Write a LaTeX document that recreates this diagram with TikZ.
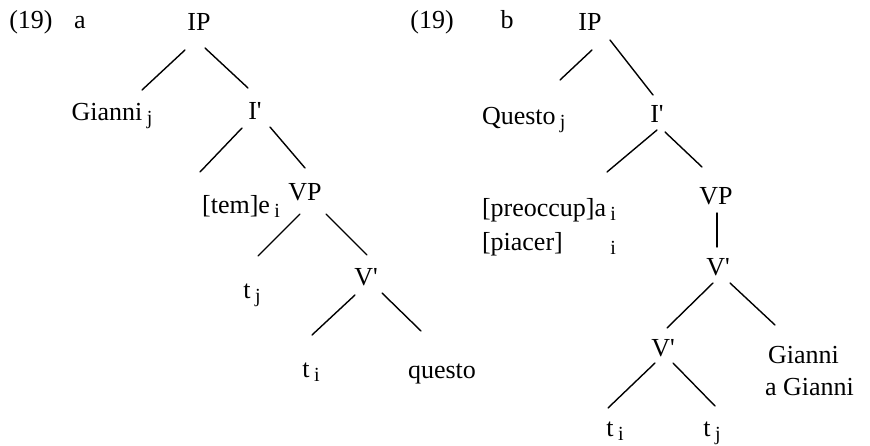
\documentclass[tikz,border=0pt]{standalone}
\usepackage{fontspec}
\setmainfont{Liberation Serif}[Ligatures=TeX]
\newcommand{\subx}[1]{\,\raisebox{-4pt}{\fontsize{20}{20}\selectfont #1}}
\newcommand{\pr}{\textquotesingle}
\begin{document}
\begin{tikzpicture}[x=1pt,y=-1pt,
  every node/.style={inner sep=0pt, outer sep=0pt, font=\rmfamily\fontsize{26}{30}\selectfont},
  br/.style={line width=1.4pt, line cap=round}]
\useasboundingbox (0,0) rectangle (870,446);
% ---- tree a ----
\node[anchor=base] (n19a) at (31,29) {(19)};
\node[anchor=base] (la) at (80,29) {a};
\node[anchor=base] (IPa) at (199,31) {IP};
\node[anchor=base] (Gia) at (112,121) {Gianni\subx{j}};
\node[anchor=base] (Ia) at (255,120) {I\pr};
\node[anchor=base] (tem) at (241,214) {[tem]e\subx{i}};
\node[anchor=base] (VPa) at (305,201) {VP};
\node[anchor=base] (tja) at (252,299) {t\subx{j}};
\node[anchor=base] (Va) at (366,286) {V\pr};
\node[anchor=base] (tia) at (311,377) {t\subx{i}};
\node[anchor=base] (qa) at (442,378) {questo};
\draw[br] ([shift={(-14,19)}]IPa.base) -- ([shift={(30,-31)}]Gia.base);
\draw[br] ([shift={(6,17)}]IPa.base) -- ([shift={(-7,-32)}]Ia.base);
\draw[br] ([shift={(-13,8)}]Ia.base) -- ([shift={(-41,-42)}]tem.base);
\draw[br] ([shift={(15,7)}]Ia.base) -- ([shift={(0,-33)}]VPa.base);
\draw[br] ([shift={(-5,13)}]VPa.base) -- ([shift={(6,-43)}]tja.base);
\draw[br] ([shift={(21,13)}]VPa.base) -- ([shift={(1,-31)}]Va.base);
\draw[br] ([shift={(-11,9)}]Va.base) -- ([shift={(1,-42)}]tia.base);
\draw[br] ([shift={(16,7)}]Va.base) -- ([shift={(-21,-47)}]qa.base);
% ---- tree b ----
\node[anchor=base] (n19b) at (432,29) {(19)};
\node[anchor=base] (lb) at (507,29) {b};
\node[anchor=base] (IPb) at (590,31) {IP};
\node[anchor=base west] (Qb) at (482,125) {Questo\subx{j}};
\node[anchor=base] (Ib) at (657,123) {I\pr};
\node[anchor=base west] (pre) at (482,217) {[preoccup]a\subx{i}};
\node[anchor=base west] (pia) at (482,251) {[piacer]};
\node[anchor=base east] (piai) at (pre.base east |- pia.base) {\subx{i}};
\node[anchor=base] (VPb) at (716,205) {VP};
\node[anchor=base] (Vb1) at (718,276) {V\pr};
\node[anchor=base] (Vb2) at (663,356) {V\pr};
\node[anchor=base west] (Gb) at (768,363) {Gianni};
\node[anchor=base west] (aGb) at (765,395) {a Gianni};
\node[anchor=base] (tib) at (615,436) {t\subx{i}};
\node[anchor=base] (tjb) at (712,436) {t\subx{j}};
\draw[br] ([shift={(2,19)}]IPb.base) -- ([shift={(78,-45)}]Qb.base west);
\draw[br] ([shift={(20,9)}]IPb.base) -- ([shift={(-4,-28)}]Ib.base);
\draw[br] ([shift={(0,7)}]Ib.base) -- ([shift={(125,-45)}]pre.base west);
\draw[br] ([shift={(8,9)}]Ib.base) -- ([shift={(-14,-38)}]VPb.base);
\draw[br] ([shift={(1,8)}]VPb.base) -- ([shift={(-1,-29)}]Vb1.base);
\draw[br] ([shift={(-5,7)}]Vb1.base) -- ([shift={(4,-28)}]Vb2.base);
\draw[br] ([shift={(12,7)}]Vb1.base) -- ([shift={(7,-38)}]Gb.base west);
\draw[br] ([shift={(-8,7)}]Vb2.base) -- ([shift={(-7,-28)}]tib.base);
\draw[br] ([shift={(10,7)}]Vb2.base) -- ([shift={(3,-30)}]tjb.base);
\end{tikzpicture}
\end{document}
